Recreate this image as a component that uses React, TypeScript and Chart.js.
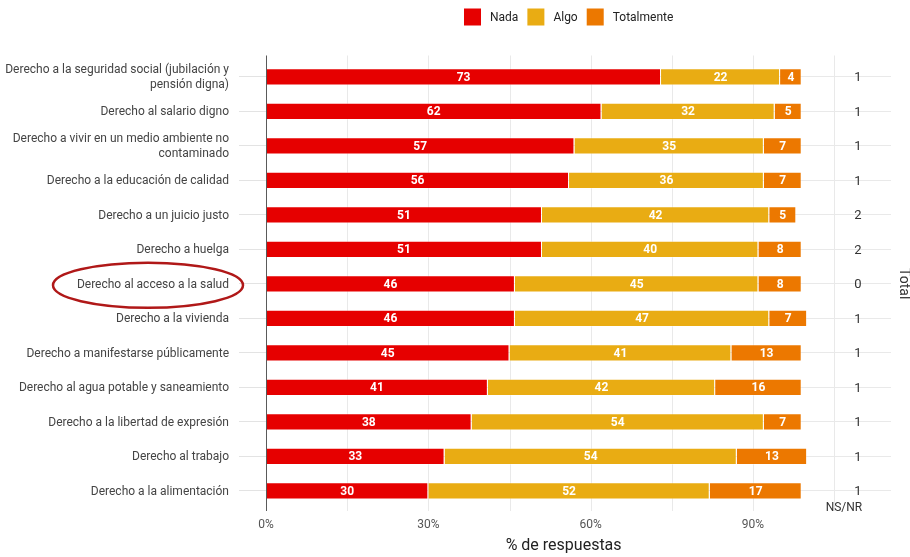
import React, { useEffect, useRef } from "react";
import { Chart, registerables } from "chart.js";

Chart.register(...registerables);

const categories: (string | string[])[] = [
  ["Derecho a la seguridad social (jubilación y", "pensión digna)"],
  "Derecho al salario digno",
  ["Derecho a vivir en un medio ambiente no", "contaminado"],
  "Derecho a la educación de calidad",
  "Derecho a un juicio justo",
  "Derecho a huelga",
  "Derecho al acceso a la salud",
  "Derecho a la vivienda",
  "Derecho a manifestarse públicamente",
  "Derecho al agua potable y saneamiento",
  "Derecho a la libertad de expresión",
  "Derecho al trabajo",
  "Derecho a la alimentación",
];

const nada = [73, 62, 57, 56, 51, 51, 46, 46, 45, 41, 38, 33, 30];
const algo = [22, 32, 35, 36, 42, 40, 45, 47, 41, 42, 54, 54, 52];
const totalmente = [4, 5, 7, 7, 5, 8, 8, 7, 13, 16, 7, 13, 17];
const nsnr = [1, 1, 1, 1, 2, 2, 0, 1, 1, 1, 1, 1, 1];

const seriesNames = ["Nada", "Algo", "Totalmente"];
const xTickValues = [0, 30, 60, 90];
const xAxisTitle = "% de respuestas";
const nsnrLabel = "NS/NR";
const facetLabel = "Total";
const highlightIndex = 6;

const COLORS = ["#E60000", "#E9AC13", "#EC7800"];
const FONT = "Roboto, 'Liberation Sans Narrow', sans-serif";
const X_MAX = 115.5;
const NSNR_X = 109.4;
const NSNR_LABEL_X = 106.8;
const TITLE_X = 55;

const decorPlugin = {
  id: "decor",
  beforeDatasetsDraw(chart: any) {
    const { ctx, chartArea, scales } = chart;
    const x = scales.x;
    ctx.save();
    ctx.strokeStyle = "#e9e9e9";
    ctx.lineWidth = 1;
    for (let v = 15; v <= 105; v += 15) {
      const px = Math.round(x.getPixelForValue(v)) + 0.5;
      ctx.beginPath();
      ctx.moveTo(px, chartArea.top - 4);
      ctx.lineTo(px, chartArea.bottom + 3);
      ctx.stroke();
    }
    ctx.restore();
  },
  afterDatasetsDraw(chart: any) {
    const { ctx, chartArea, scales } = chart;
    const x = scales.x;
    const y = scales.y;
    ctx.save();

    // axis line
    ctx.strokeStyle = "#5a5a5a";
    ctx.lineWidth = 1;
    const ax = Math.round(x.getPixelForValue(0)) + 0.5;
    ctx.beginPath();
    ctx.moveTo(ax, chartArea.top - 4);
    ctx.lineTo(ax, chartArea.bottom + 3);
    ctx.stroke();

    // value labels
    ctx.fillStyle = "#ffffff";
    ctx.font = `bold 12px ${FONT}`;
    ctx.textAlign = "center";
    ctx.textBaseline = "middle";
    chart.data.datasets.forEach((ds: any, di: number) => {
      const meta = chart.getDatasetMeta(di);
      meta.data.forEach((bar: any, i: number) => {
        const cx = (bar.x + bar.base) / 2;
        ctx.fillText(String(ds.data[i]), cx, bar.y + 1);
      });
    });

    // NS/NR values
    ctx.fillStyle = "#333333";
    ctx.font = `13px ${FONT}`;
    nsnr.forEach((v, i) => {
      ctx.fillText(String(v), x.getPixelForValue(NSNR_X), y.getPixelForValue(i) + 1);
    });
    ctx.font = `12px ${FONT}`;
    ctx.fillText(nsnrLabel, x.getPixelForValue(NSNR_LABEL_X), chartArea.bottom);

    // x axis title
    ctx.font = `16px ${FONT}`;
    ctx.fillStyle = "#222222";
    ctx.fillText(xAxisTitle, x.getPixelForValue(TITLE_X), 546);

    // facet strip label
    ctx.save();
    ctx.translate(903, (chartArea.top + chartArea.bottom) / 2);
    ctx.rotate(Math.PI / 2);
    ctx.font = `14px ${FONT}`;
    ctx.fillStyle = "#333333";
    ctx.fillText(facetLabel, 0, 0);
    ctx.restore();

    // legend
    ctx.font = `12px ${FONT}`;
    ctx.textAlign = "left";
    ctx.textBaseline = "middle";
    let lx = 464;
    const ly = 17;
    seriesNames.forEach((name, i) => {
      ctx.fillStyle = COLORS[i];
      ctx.fillRect(lx, ly - 8.5, 17, 17);
      lx += 17 + 9;
      ctx.fillStyle = "#222222";
      ctx.fillText(name, lx, ly + 1);
      lx += ctx.measureText(name).width + 9;
    });

    // highlight ellipse
    ctx.strokeStyle = "#B01818";
    ctx.lineWidth = 2.5;
    ctx.beginPath();
    ctx.ellipse(148, y.getPixelForValue(highlightIndex) + 1.5, 95, 22.5, 0, 0, Math.PI * 2);
    ctx.stroke();

    ctx.restore();
  },
};

export default function App() {
  const ref = useRef<HTMLCanvasElement>(null);
  useEffect(() => {
    if (!ref.current) return;
    const series = [nada, algo, totalmente];
    const chart = new Chart(ref.current, {
      type: "bar",
      data: {
        labels: categories,
        datasets: series.map((d, i) => ({
          label: seriesNames[i],
          data: d,
          backgroundColor: COLORS[i],
          borderColor: "rgba(255,255,255,0.35)",
          borderWidth: 1,
          barPercentage: 0.5,
          categoryPercentage: 1,
        })),
      },
      options: {
        indexAxis: "y",
        animation: false,
        responsive: true,
        maintainAspectRatio: false,
        layout: { padding: { top: 59.5, right: 19, bottom: 0, left: 0 } },
        plugins: {
          legend: { display: false },
          tooltip: { enabled: false },
        },
        scales: {
          x: {
            stacked: true,
            min: 0,
            max: X_MAX,
            afterBuildTicks: (scale: any) => {
              scale.ticks = xTickValues.map((v) => ({ value: v }));
            },
            afterFit: (scale: any) => {
              scale.height = 49;
            },
            grid: { display: false, drawTicks: false },
            border: { display: false },
            ticks: {
              autoSkip: false,
              maxRotation: 0,
              padding: 10,
              color: "#555555",
              font: { family: FONT, size: 12 },
              callback: (v: any) => `${v}%`,
            },
          },
          y: {
            stacked: true,
            afterFit: (scale: any) => {
              scale.width = 266;
            },
            grid: {
              offset: false,
              color: "#e9e9e9",
              tickColor: "#e3e3e3",
              tickLength: 27,
              drawTicks: true,
            },
            border: { display: false },
            ticks: {
              padding: 10,
              labelOffset: 1,
              color: "#444444",
              font: { family: FONT, size: 12, lineHeight: 1.25 },
            },
          },
        },
      },
      plugins: [decorPlugin],
    } as any);
    return () => chart.destroy();
  }, []);
  return (
    <div style={{ position: "fixed", left: 0, top: 0, width: 910, height: 557, background: "#fff" }}>
      <canvas ref={ref} />
    </div>
  );
}
